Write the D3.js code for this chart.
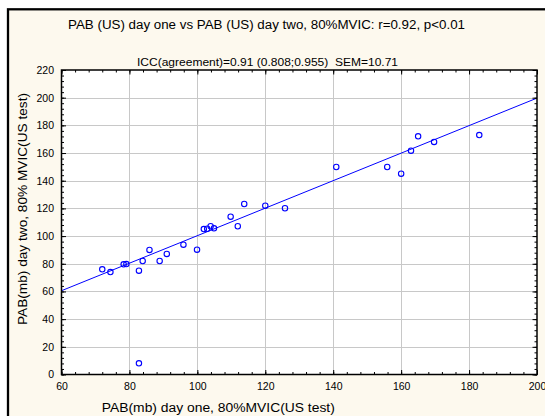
<!DOCTYPE html>
<html>
<head>
<meta charset="utf-8">
<script src="https://cdn.jsdelivr.net/npm/d3@7/dist/d3.min.js"></script>
<style>
  html, body { margin: 0; padding: 0; background: #fff; }
  svg { display: block; font-family: "Liberation Sans", Arial, sans-serif; }
  text { white-space: pre; }
</style>
</head>
<body>
<svg id="chart" width="545" height="416"></svg>
<script>
// PAB (mb) measured on day one (x) and day two (y), 80% MVIC
const dayOne = [72, 74.4, 78.3, 79.1, 82.8, 83.9, 85.9, 88.9, 91.0, 95.9, 99.9, 101.9,
                102.9, 103.9, 104.9, 109.8, 111.9, 113.8, 120, 125.8, 140.9, 155.9,
                160.0, 162.9, 165.0, 169.7, 183.0, 82.8];
const dayTwo = [76, 74, 79.6, 79.8, 75, 82, 90, 82, 87.1, 93.8, 90.2, 105.1,
                105.3, 107.1, 105.6, 114, 107.1, 123.2, 122, 120.1, 149.9, 149.9,
                145.1, 161.7, 172.1, 168, 173, 8.1];

// fitted regression line y = intercept + slope * x
const fitIntercept = 0.9;
const fitSlope = 0.994;

const xTicks = [60, 80, 100, 120, 140, 160, 180, 200];
const yTicks = [0, 20, 40, 60, 80, 100, 120, 140, 160, 180, 200, 220];

const titleText = "PAB (US) day one vs PAB (US) day two, 80%MVIC: r=0.92, p<0.01";
const subtitleText = "ICC(agreement)=0.91 (0.808;0.955)  SEM=10.71";
const xLabel = "PAB(mb) day one, 80%MVIC(US test)";
const yLabel = "PAB(mb) day two, 80% MVIC(US test)";

const svg = d3.select("#chart");
const pLeft = 61.5, pRight = 537, pTop = 70, pBottom = 374.5;

const x = d3.scaleLinear().domain([60, 200]).range([pLeft, pRight]);
const y = d3.scaleLinear().domain([0, 220]).range([pBottom, pTop]);

// outer frame
svg.append("rect").attr("x", 8).attr("y", 9.3).attr("width", 560).attr("height", 420)
  .attr("fill", "#fdf9ee").attr("stroke", "#000").attr("stroke-width", 2.3);

// plot background
svg.append("rect").attr("x", pLeft).attr("y", pTop)
  .attr("width", pRight - pLeft).attr("height", pBottom - pTop).attr("fill", "#fff");

// gridlines
const grid = svg.append("g").attr("stroke", "#c8c8c8").attr("stroke-width", 1);
grid.selectAll(".gx").data(xTicks.slice(1, -1)).join("line")
  .attr("x1", d => Math.round(x(d)) + 0.5).attr("x2", d => Math.round(x(d)) + 0.5)
  .attr("y1", pTop).attr("y2", pBottom);
grid.selectAll(".gy").data(yTicks.slice(1, -1)).join("line")
  .attr("y1", d => Math.round(y(d)) + 0.5).attr("y2", d => Math.round(y(d)) + 0.5)
  .attr("x1", pLeft).attr("x2", pRight);

// regression line, clipped to the plot area
svg.append("clipPath").attr("id", "plotclip")
  .append("rect").attr("x", pLeft).attr("y", pTop).attr("width", pRight - pLeft).attr("height", pBottom - pTop);
svg.append("line")
  .attr("clip-path", "url(#plotclip)")
  .attr("x1", x(60)).attr("y1", y(fitIntercept + fitSlope * 60))
  .attr("x2", x(200)).attr("y2", y(fitIntercept + fitSlope * 200))
  .attr("stroke", "#0000ff").attr("stroke-width", 1);

// points
svg.append("g").selectAll("circle").data(dayOne.map((d, i) => [d, dayTwo[i]])).join("circle")
  .attr("cx", d => x(d[0])).attr("cy", d => y(d[1])).attr("r", 2.7)
  .attr("fill", "none").attr("stroke", "#0000ff").attr("stroke-width", 1.1);

// axes with inward ticks (major every 20, minor every 4)
const xMinor = d3.range(60, 200.1, 4);
const yMinor = d3.range(0, 220.1, 4);
function inwardAxis(axisFn, scale, ticks, minor, transform, showLabels, pad) {
  const gMinor = svg.append("g").attr("transform", transform)
    .call(axisFn(scale).tickValues(minor).tickSize(-2.5).tickFormat(""));
  gMinor.select(".domain").remove();
  const g = svg.append("g").attr("transform", transform)
    .call(axisFn(scale).tickValues(ticks).tickSize(-4.5).tickPadding(pad)
      .tickFormat(showLabels ? d3.format("d") : ""));
  g.select(".domain").remove();
  g.selectAll("line").attr("stroke", "#000");
  gMinor.selectAll("line").attr("stroke", "#000");
  g.selectAll("text").attr("font-size", 10.5).attr("fill", "#000")
    .attr("font-family", "Liberation Sans, Arial, sans-serif");
  return g;
}
const gx = inwardAxis(d3.axisBottom, x, xTicks, xMinor, `translate(0,${pBottom})`, true, 6);
gx.selectAll("text").attr("dy", "0.9em");
inwardAxis(d3.axisTop, x, xTicks, xMinor, `translate(0,${pTop})`, false, 6);
inwardAxis(d3.axisLeft, y, yTicks, yMinor, `translate(${pLeft},0)`, true, 7.5);
inwardAxis(d3.axisRight, y, yTicks, yMinor, `translate(${pRight},0)`, false, 6);

// plot border
svg.append("rect").attr("x", pLeft).attr("y", pTop)
  .attr("width", pRight - pLeft).attr("height", pBottom - pTop)
  .attr("fill", "none").attr("stroke", "#000").attr("stroke-width", 1.5);

// titles and axis labels
function label(txt, size, len, transform) {
  return svg.append("text").attr("transform", transform).attr("text-anchor", "middle")
    .attr("font-size", size).attr("textLength", len).attr("lengthAdjust", "spacingAndGlyphs")
    .text(txt);
}
label(titleText, 12, 397, "translate(266.5,29.3)");
label(subtitleText, 10.5, 261, "translate(267.5,65.7)");
label(xLabel, 12.5, 233, "translate(218.3,411.5)");
label(yLabel, 12.5, 232, "translate(26.5,209) rotate(-90)");
</script>
</body>
</html>
